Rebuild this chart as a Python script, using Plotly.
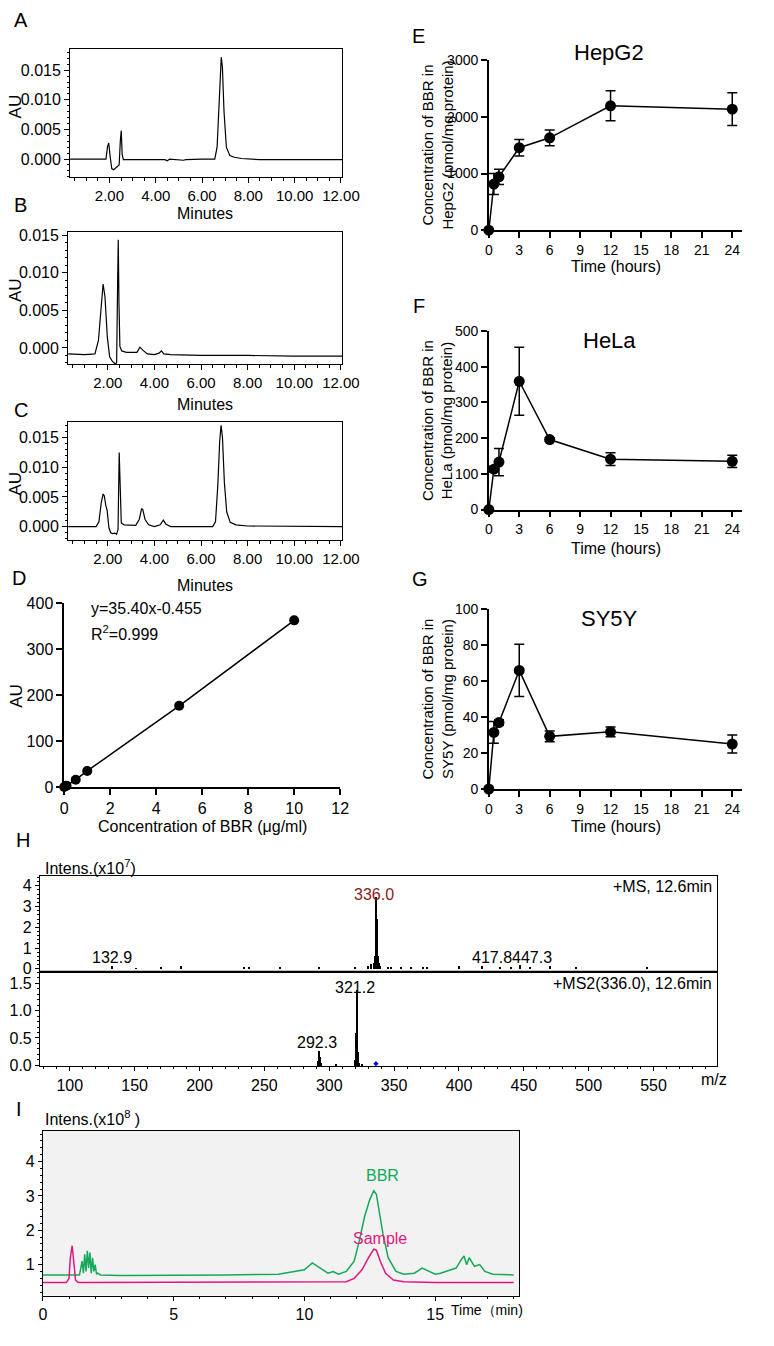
import plotly.graph_objects as go

W, H = 774, 1346
FONT = "Liberation Sans, Arial, sans-serif"

# A-C: HPLC chromatograms (minutes, AU)
a_min = [0.3, 1.85, 1.92, 1.97, 2.03, 2.1, 2.18, 2.3, 2.42, 2.47, 2.51, 2.55, 2.6, 3.5, 4.4, 4.5, 4.6, 5.2, 5.3, 6.0,
         6.55, 6.65, 6.72, 6.78, 6.83, 6.88, 6.95, 7.05, 7.2, 7.4, 7.7, 8.5, 12.05]
a_au = [0.0, 0.0, 0.0022, 0.0027, 0.0005, -0.0016, -0.0018, -0.0014, -0.001, 0.003, 0.0048, 0.0008, -0.0001, -0.0001,
        -0.0001, -0.0003, 0.0, -0.0002, -0.0001, 0.0, 0.0, 0.002, 0.008, 0.0145, 0.0172, 0.0155, 0.008, 0.002, 0.0006,
        0.0003, 0.0001, -0.0001, -0.0001]

b_min = [0.3, 1.0, 1.45, 1.6, 1.72, 1.8, 1.88, 1.98, 2.08, 2.2, 2.32, 2.38, 2.42, 2.45, 2.48, 2.52, 2.6, 2.8, 3.25,
         3.38, 3.5, 3.7, 4.0, 4.2, 4.3, 4.4, 4.7, 6.0, 8.0, 10.0, 12.05]
b_au = [-0.0008, -0.0009, -0.0008, 0.001, 0.0055, 0.0085, 0.0068, 0.0015, -0.0012, -0.0018, -0.0021, -0.002, 0.008,
        0.0144, 0.006, 0.0002, -0.0004, -0.0006, -0.0006, 0.0001, -0.0003, -0.0008, -0.0009, -0.0007, -0.0004,
        -0.0008, -0.0009, -0.001, -0.001, -0.0011, -0.0011]

c_min = [0.3, 1.5, 1.62, 1.72, 1.8, 1.85, 1.92, 1.97, 2.05, 2.12, 2.2, 2.3, 2.38, 2.44, 2.49, 2.53, 2.58, 2.7, 3.2,
         3.35, 3.45, 3.5, 3.6, 3.75, 4.0, 4.25, 4.38, 4.5, 4.7, 5.5, 6.5, 6.62, 6.72, 6.8, 6.86, 6.92, 7.0, 7.1, 7.25,
         7.5, 8.0, 12.05]
c_au = [0.0, 0.0, 0.0008, 0.004, 0.0055, 0.0052, 0.0035, 0.0028, -0.0002, -0.001, -0.0012, -0.0011, -0.0013, -0.0005,
        0.0125, 0.005, 0.0006, 0.0003, 0.0002, 0.0012, 0.003, 0.0029, 0.0012, 0.0003, 0.0, 0.0003, 0.0011, 0.0004,
        0.0, 0.0, 0.0, 0.0008, 0.007, 0.0145, 0.0171, 0.015, 0.0075, 0.0025, 0.0007, 0.0003, 0.0001, 0.0]

# D: standard curve
std_conc = [0, 0.1, 0.5, 1, 5, 10]
std_au = [0, 3, 16, 35, 177, 363]

# E-G: uptake over time
hours = [0, 0.5, 1, 3, 6, 12, 24]
hepg2 = [0, 815, 943, 1456, 1631, 2196, 2137]
hepg2_err = [0, 185, 135, 145, 140, 265, 290]
hela = [0, 113, 133, 359, 196, 141, 135]
hela_err = [0, 8, 38, 95, 5, 18, 17]
sy5y = [0, 31.5, 37, 66, 29.3, 31.8, 25]
sy5y_err = [0, 6, 1.5, 14.5, 3, 2.7, 5]

# H: mass spectra (m/z, intensity x1e7)
ms1_mz = [132.9, 151, 170, 185.5, 234, 238, 262, 292, 320, 330, 332, 334.5, 335.5, 336.0, 336.5, 337.0, 337.5, 338.2,
          339, 345, 348, 355, 363, 372, 375, 400, 417.8, 432, 440, 447.3, 455, 470, 490, 545]
ms1_int = [0.12, 0.04, 0.05, 0.12, 0.08, 0.06, 0.05, 0.05, 0.05, 0.15, 0.25, 0.3, 0.6, 3.45, 2.4, 1.5, 0.6, 0.3, 0.12,
           0.08, 0.1, 0.05, 0.06, 0.07, 0.06, 0.12, 0.15, 0.05, 0.06, 0.17, 0.06, 0.12, 0.05, 0.07]
ms2_mz = [291.6, 292.3, 292.9, 293.5, 305, 319.8, 320.5, 321.2, 321.8, 322.4, 323.2, 325]
ms2_int = [0.08, 0.26, 0.16, 0.05, 0.03, 0.1, 0.6, 1.38, 0.85, 0.25, 0.05, 0.02]

# I: extracted ion chromatograms (min, intensity x1e8)
bbr_min = [0, 1.4, 1.5, 1.55, 1.6, 1.65, 1.7, 1.75, 1.8, 1.85, 1.9, 1.95, 2.0, 2.05, 2.1, 2.2, 3.0, 5.0, 7.0, 9.0,
           9.5, 10.0, 10.3, 10.5, 10.7, 10.9, 11.1, 11.3, 11.6, 11.9, 12.1, 12.3, 12.5, 12.65, 12.75, 12.85, 13.0,
           13.2, 13.5, 13.8, 14.2, 14.5, 14.8, 15.0, 15.2, 15.5, 15.8, 16.0, 16.1, 16.2, 16.3, 16.5, 16.7, 16.9,
           17.2, 18.0]
bbr_int = [0.7, 0.7, 1.1, 0.75, 1.3, 0.8, 1.4, 0.9, 1.35, 0.75, 1.2, 0.8, 1.0, 0.72, 0.75, 0.7, 0.68, 0.68, 0.7, 0.72,
           0.78, 0.85, 1.05, 0.95, 0.85, 0.75, 0.8, 0.72, 0.8, 1.1, 1.7, 2.4, 2.9, 3.15, 3.05, 2.6, 1.9, 1.2, 0.8,
           0.72, 0.75, 0.9, 0.8, 0.72, 0.75, 0.82, 0.9, 1.15, 1.25, 1.0, 1.2, 0.95, 1.0, 0.8, 0.72, 0.7]
smp_min = [0, 0.9, 1.0, 1.05, 1.12, 1.18, 1.25, 1.35, 3.0, 6.0, 9.0, 11.0, 11.6, 11.9, 12.2, 12.45, 12.65, 12.75,
           12.9, 13.1, 13.4, 13.8, 15.0, 18.0]
smp_int = [0.48, 0.48, 0.6, 1.2, 1.55, 1.0, 0.55, 0.48, 0.48, 0.48, 0.48, 0.48, 0.5, 0.6, 0.85, 1.2, 1.45, 1.42, 1.1,
           0.75, 0.55, 0.5, 0.48, 0.48]

GREEN = "#16a85a"
MAGENTA = "#e3187e"

axes = {}
notes = []


def sfx(n):
    return "" if n == 1 else str(n)


def place(n, left, right, top, bottom, xopts, yopts):
    # pixel box -> paper domain
    axes["xaxis" + sfx(n)] = dict(domain=[left / W, right / W], anchor="y" + sfx(n), **xopts)
    axes["yaxis" + sfx(n)] = dict(domain=[1 - bottom / H, 1 - top / H], anchor="x" + sfx(n), **yopts)


def note(text, x, y, size=16, color="black", xanchor="center", angle=0):
    notes.append(dict(text=text, x=x / W, y=1 - y / H, xref="paper", yref="paper", showarrow=False,
                      font=dict(size=size, color=color), xanchor=xanchor, yanchor="middle", textangle=angle))


base = dict(showgrid=False, zeroline=False, showline=True, linecolor="black", ticks="outside",
            tickcolor="black", tickfont=dict(size=16))

chrom_x = dict(base, range=[0.3, 12.05], tick0=0, dtick=2, tickformat=".2f", ticklen=5, linewidth=1, mirror=True,
               tickfont=dict(size=15),
               minor=dict(ticks="outside", tick0=0, dtick=0.5, ticklen=3, tickcolor="black"))


def chrom_y(lo, hi):
    return dict(base, range=[lo, hi], tick0=0, dtick=0.005, tickformat=".3f", ticklen=5, linewidth=1, mirror=True,
                minor=dict(ticks="outside", tick0=0, dtick=0.001, ticklen=2, tickcolor="black"))


prism = dict(base, linewidth=1.5, ticklen=6, tickwidth=1.5)
prism_small = dict(prism, tickfont=dict(size=14))
time_x = dict(prism_small, range=[0, 25], tick0=0, dtick=3)

place(1, 68, 348, 42, 171, chrom_x, chrom_y(-0.003, 0.0185))
place(2, 66, 348, 227, 361, chrom_x, chrom_y(-0.0022, 0.0154))
place(3, 66, 348, 419, 539, chrom_x, chrom_y(-0.0023, 0.0177))
place(4, 62, 346, 603, 789, dict(prism, range=[0, 12], dtick=2), dict(prism, range=[0, 400], dtick=100))
place(5, 499, 760, 53, 225, time_x, dict(prism_small, range=[0, 3000], dtick=1000))
place(6, 499, 760, 327, 508, time_x, dict(prism_small, range=[0, 500], dtick=100))
place(7, 499, 760, 609, 791, time_x, dict(prism_small, range=[0, 100], dtick=20))

ms_x = dict(base, range=[77, 599], tick0=0, dtick=50, ticklen=4, linewidth=1,
            minor=dict(ticks="outside", tick0=0, dtick=10, ticklen=2, tickcolor="black"))
place(8, 37, 734, 879, 976, dict(ms_x, showticklabels=False, ticks="", minor=None, mirror=True),
      dict(base, range=[-0.14, 4.48], tick0=0, dtick=1, ticklen=4, linewidth=1, mirror=True,
           minor=dict(ticks="outside", tick0=0, dtick=0.2, ticklen=2, tickcolor="black")))
place(9, 37, 734, 976, 1072, ms_x,
      dict(base, range=[-0.02, 1.71], tick0=0, dtick=0.5, tickformat=".1f", ticklen=4, linewidth=1, mirror=True,
           minor=dict(ticks="outside", tick0=0, dtick=0.1, ticklen=2, tickcolor="black")))
place(10, 40, 530, 1137, 1304,
      dict(base, range=[0, 18.2], tick0=0, dtick=5, ticklen=4, linewidth=1, mirror=True,
           minor=dict(ticks="outside", tick0=0, dtick=1, ticklen=2, tickcolor="black")),
      dict(base, range=[0.1, 4.9], tick0=0, dtick=1, ticklen=4, linewidth=1, mirror=True,
           minor=dict(ticks="outside", tick0=0, dtick=0.2, ticklen=2, tickcolor="black")))

fig = go.Figure()

for n, (t, v) in enumerate([(a_min, a_au), (b_min, b_au), (c_min, c_au)], start=1):
    fig.add_trace(go.Scatter(x=t, y=v, mode="lines", line=dict(color="black", width=1.2),
                             xaxis="x" + sfx(n), yaxis="y" + sfx(n)))

fig.add_trace(go.Scatter(x=std_conc, y=std_au, mode="lines+markers", cliponaxis=False,
                         line=dict(color="black", width=1.5), marker=dict(color="black", size=10),
                         xaxis="x4", yaxis="y4"))

for n, (v, e) in zip([5, 6, 7], [(hepg2, hepg2_err), (hela, hela_err), (sy5y, sy5y_err)]):
    fig.add_trace(go.Scatter(x=hours, y=v, mode="lines+markers", cliponaxis=False,
                             error_y=dict(type="data", array=e, color="black", thickness=1.5, width=5),
                             line=dict(color="black", width=1.5), marker=dict(color="black", size=11),
                             xaxis="x" + str(n), yaxis="y" + str(n)))

fig.add_trace(go.Bar(x=ms1_mz, y=ms1_int, width=0.9, marker=dict(color="black", line=dict(width=0)),
                     xaxis="x8", yaxis="y8"))
fig.add_trace(go.Bar(x=ms2_mz, y=ms2_int, width=0.9, marker=dict(color="black", line=dict(width=0)),
                     xaxis="x9", yaxis="y9"))
fig.add_trace(go.Scatter(x=[336.0], y=[0.03], mode="markers", marker=dict(color="blue", size=4, symbol="diamond"),
                         xaxis="x9", yaxis="y9"))

fig.add_trace(go.Scatter(x=bbr_min, y=bbr_int, mode="lines", line=dict(color=GREEN, width=1.5),
                         xaxis="x10", yaxis="y10"))
fig.add_trace(go.Scatter(x=smp_min, y=smp_int, mode="lines", line=dict(color=MAGENTA, width=1.5),
                         xaxis="x10", yaxis="y10"))

# panel letters
for letter, x, y in [("A", 17, 12), ("B", 17, 200), ("C", 17, 407), ("D", 15, 577), ("E", 427, 28),
                     ("F", 427, 302), ("G", 428, 578), ("H", 20, 843), ("I", 15, 1115)]:
    note(letter, x, y, size=20)

for y in [100, 286, 482]:
    note("AU", 12, y, size=17, angle=-90)
for y in [208, 402, 585]:
    note("Minutes", 207, y)

note("AU", 13, 697, size=17, angle=-90)
note("y=35.40x-0.455", 88, 608, xanchor="left")
note("R<sup>2</sup>=0.999", 88, 633, xanchor="left")
note("Concentration of BBR (μg/ml)", 204, 829)

for name, ty, cy, xy in [("HepG2", 45, 139, 262), ("HeLa", 337, 418, 547), ("SY5Y", 618, 700, 829)]:
    note(name, 623, ty, size=22)
    note("Concentration of BBR in<br>" + name + " (pmol/mg protein)", 446, cy, size=15, angle=-90)
    note("Time (hours)", 630, xy)

note("Intens.(x10<sup>7</sup>)", 40, 870, xanchor="left")
note("+MS, 12.6min", 731, 890, xanchor="right")
note("+MS2(336.0), 12.6min", 731, 988, xanchor="right")
note("m/z", 731, 1085)

for text, mz, yv, ax, color in [("132.9", 132.9, 0.52, 8, "black"), ("336.0", 334.5, 3.6, 8, "#8b1c1c"),
                                ("417.8447.3", 441, 0.52, 8, "black"), ("321.2", 319.5, 1.43, 9, "black"),
                                ("292.3", 290.5, 0.41, 9, "black")]:
    notes.append(dict(text=text, x=mz, y=yv, xref="x" + str(ax), yref="y" + str(ax), showarrow=False,
                      font=dict(size=16, color=color), xanchor="center", yanchor="middle"))

note("Intens.(x10<sup>8</sup> )", 40, 1124, xanchor="left")
note("Time（min)", 536, 1319, size=14, xanchor="right")
notes.append(dict(text="BBR", x=13.0, y=3.6, xref="x10", yref="y10", showarrow=False,
                  font=dict(size=16, color=GREEN)))
notes.append(dict(text="Sample", x=12.9, y=1.75, xref="x10", yref="y10", showarrow=False,
                  font=dict(size=16, color=MAGENTA)))

shapes = [
    dict(type="rect", xref="x10 domain", yref="y10 domain", x0=0, x1=1, y0=0, y1=1,
         fillcolor="#f2f2f2", line=dict(width=0), layer="below"),
    dict(type="line", xref="x8 domain", yref="y8 domain", x0=0, x1=1, y0=0, y1=0,
         line=dict(color="black", width=2)),
]

fig.update_layout(width=W, height=H, margin=dict(l=0, r=0, t=0, b=0), paper_bgcolor="white",
                  plot_bgcolor="white", showlegend=False, bargap=0,
                  font=dict(family=FONT, size=16, color="black"), annotations=notes, shapes=shapes, **axes)

# drop the page's default body margin so the figure sits at the window's corner
fig.write_html("out.html", config={"displayModeBar": False},
               post_script="document.body.style.margin='0px';")
